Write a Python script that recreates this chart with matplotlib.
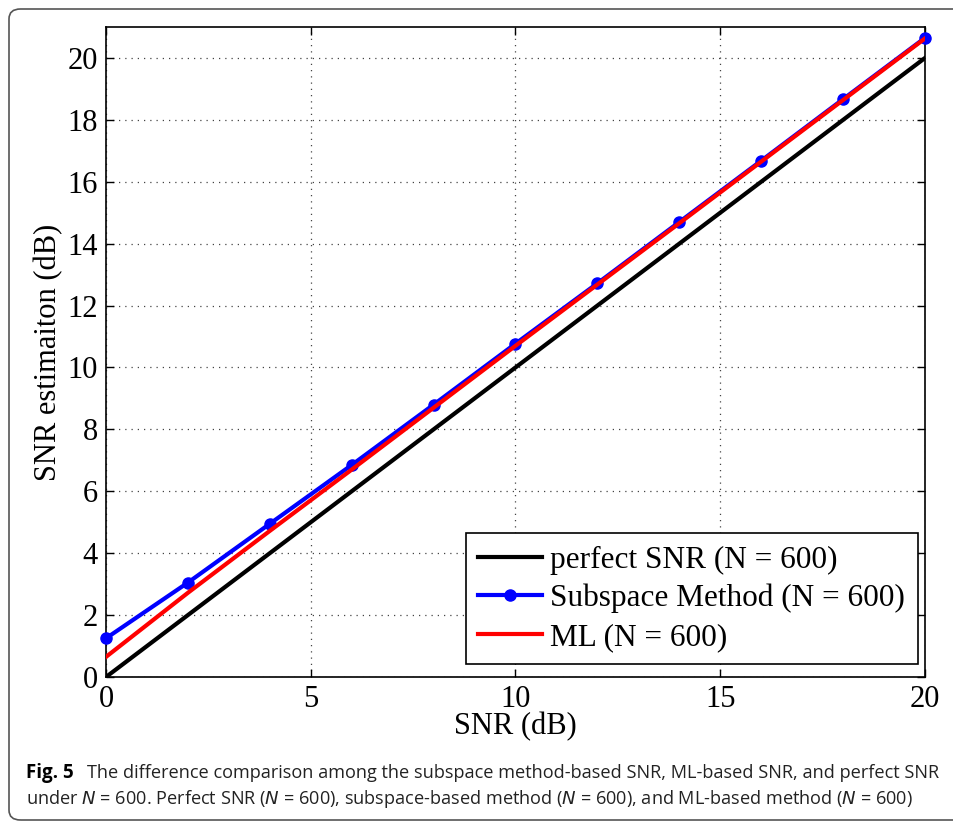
import matplotlib
matplotlib.use("Agg")
import matplotlib.pyplot as plt
from matplotlib.patches import FancyBboxPatch

# SNR grid (dB) and estimated SNR for each method
snr_db = [0, 2, 4, 6, 8, 10, 12, 14, 16, 18, 20]
perfect_snr = [0, 2, 4, 6, 8, 10, 12, 14, 16, 18, 20]
subspace_snr = [1.25, 3.05, 4.95, 6.85, 8.8, 10.77, 12.72, 14.7, 16.68, 18.67, 20.65]
ml_snr = [0.65, 2.72, 4.72, 6.7, 8.7, 10.7, 12.68, 14.66, 16.65, 18.64, 20.63]

x_ticks = [0, 5, 10, 15, 20]
y_ticks = [0, 2, 4, 6, 8, 10, 12, 14, 16, 18, 20]

serif = ["Liberation Serif", "DejaVu Serif"]

fig = plt.figure(figsize=(9.54, 8.22), dpi=100)
ax = fig.add_axes([106 / 954, 1 - 677 / 822, (925 - 106) / 954, (677 - 27) / 822])

ax.plot(snr_db, perfect_snr, color="black", lw=3.0, label="perfect SNR (N = 600)", zorder=3)
ax.plot(snr_db, subspace_snr, color="#0000ff", lw=3.0, marker="o", ms=8,
        label="Subspace Method (N = 600)", zorder=4, clip_on=False)
ax.plot(snr_db, ml_snr, color="#ff0000", lw=3.0, label="ML (N = 600)", zorder=5)

ax.set_xlim(0, 20)
ax.set_ylim(0, 21)
ax.set_xticks(x_ticks)
ax.set_yticks(y_ticks)
ax.tick_params(direction="in", top=True, right=True, length=6, width=1,
               labelsize=22, pad=6)
for lbl in ax.get_xticklabels() + ax.get_yticklabels():
    lbl.set_family(serif)
ax.grid(True, linestyle=(0, (1, 4)), color="#444444", lw=0.9)
for sp in ax.spines.values():
    sp.set_linewidth(1.2)

ax.set_xlabel("SNR (dB)", fontsize=22, family=serif, labelpad=-2)
ax.set_ylabel("SNR estimaiton (dB)", fontsize=22, family=serif, labelpad=3)

leg = ax.legend(loc="lower right", bbox_to_anchor=(0.9985, 0.01),
                prop={"family": serif, "size": 22.5}, frameon=True, fancybox=False,
                edgecolor="black", framealpha=1, handlelength=2.05,
                handletextpad=0.25, borderpad=0.4, labelspacing=0.3,
                borderaxespad=0.2)
leg.get_frame().set_linewidth(1.2)

# Caption
cap_size = 13.1
fig.text(26 / 954, 1 - 778 / 822, "Fig. 5", fontsize=cap_size + 0.4, family="Open Sans",
         weight="bold", va="baseline", ha="left")
fig.text(87 / 954, 1 - 778 / 822,
         "The difference comparison among the subspace method-based SNR, ML-based SNR, and perfect SNR",
         fontsize=cap_size, family="Open Sans", va="baseline", ha="left", color="#222222")
fig.text(26 / 954, 1 - 804 / 822,
         r"under $\mathit{N}$ = 600. Perfect SNR ($\mathit{N}$ = 600), subspace-based method ($\mathit{N}$ = 600), and ML-based method ($\mathit{N}$ = 600)",
         fontsize=cap_size, family="Open Sans", va="baseline", ha="left", color="#222222")

# Rounded frame around the figure
frame = FancyBboxPatch((9 / 954, 1 - 820 / 822), 980 / 954, (820 - 9) / 822,
                       boxstyle="round,pad=0,rounding_size=0.012",
                       transform=fig.transFigure, fill=False,
                       edgecolor="#555555", lw=1.2, clip_on=False)
fig.patches.append(frame)

fig.savefig("out.png", dpi=100)
